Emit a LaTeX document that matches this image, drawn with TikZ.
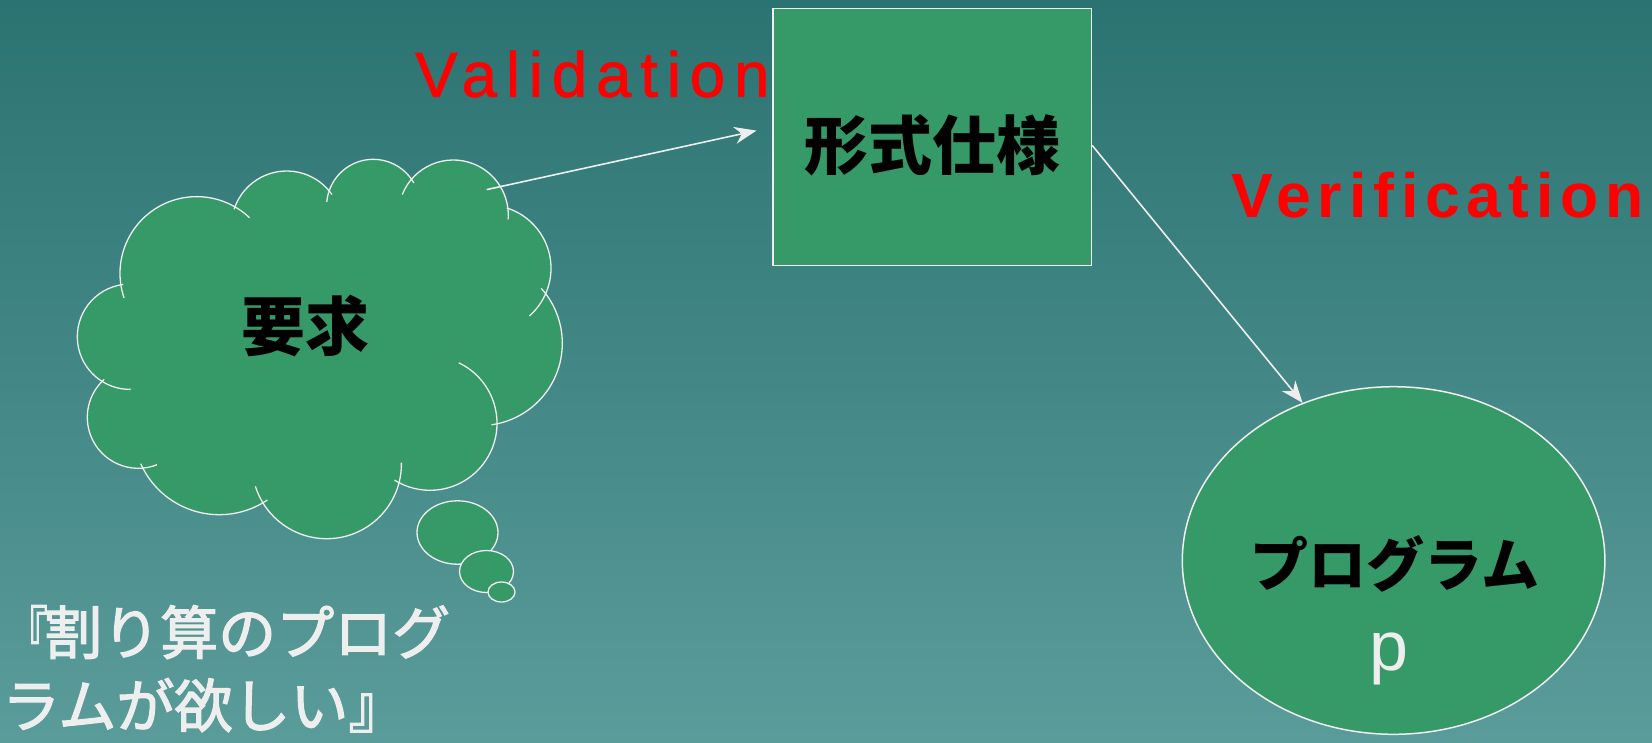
\documentclass[tikz,border=0pt]{standalone}
\usepackage{fontspec}
\usepackage{graphicx}
\usetikzlibrary{arrows.meta,shapes.geometric}
\setmainfont{Liberation Sans}
\newfontfamily\jpfont{Noto Sans CJK JP}
\newfontfamily\jpsemi{Noto Sans CJK JP}[FakeBold=2.2]
\newfontfamily\valfont{Liberation Sans}[LetterSpace=14,FakeBold=1.2]
\newfontfamily\verfont{Liberation Sans}[LetterSpace=11]
\definecolor{bgtop}{HTML}{2B7372}
\definecolor{bgbot}{HTML}{5A9C9A}
\definecolor{shapefill}{HTML}{369968}
\definecolor{linec}{HTML}{EEEEEE}
\definecolor{labred}{HTML}{FF0000}
\newcommand\cloudlobe[5]{\draw[cloudline] ([shift={(#4:#3)}]#1,#2) arc[start angle=#4,end angle=#5,radius=#3];}
\begin{document}
\begin{tikzpicture}[x=1pt,y=-1pt,
  cloudline/.style={draw=linec,line width=1.3pt},
  shapebox/.style={draw=linec,line width=1.5pt,fill=shapefill,inner sep=0pt},
  bubble/.style={draw=linec,line width=1.3pt,fill=shapefill},
  jpbig/.style={font=\jpfont\bfseries\fontsize{64}{70}\selectfont,text=black,inner sep=0pt},
  arr/.style={draw=linec,line width=1.6pt,-{Stealth[length=22pt,width=17pt,inset=7pt]}},
  redlab/.style={text=labred,inner sep=0pt}]
\useasboundingbox (0,0) rectangle (1652,742);
\shade[top color=bgtop,bottom color=bgbot] (0,0) rectangle (1652,742);
% cloud fill
\fill[shapefill] (196.7,273.3) -- (286.7,226.3) -- (373.3,206) -- (453.3,215) -- (487.7,268.3) -- (480,343.3) -- (430,423.3) -- (326.7,464) -- (219.3,428.7) -- (138.3,417.3) -- (130,336.7) -- cycle;
\fill[shapefill] (196.7,273.3) circle[radius=76.7] (286.7,226.3) circle[radius=55.3]
  (373.3,206) circle[radius=46.7] (453.3,215) circle[radius=55] (487.7,268.3) circle[radius=63.3]
  (480,343.3) circle[radius=82.3] (430,423.3) circle[radius=67] (326.7,464) circle[radius=74.7]
  (219.3,428.7) circle[radius=86] (138.3,417.3) circle[radius=51] (130,336.7) circle[radius=52.7];
\cloudlobe{196.7}{273.3}{76.7}{161.2}{313.6}
\cloudlobe{286.7}{226.3}{55.3}{198}{325}
\cloudlobe{373.3}{206}{46.7}{185}{330.4}
\cloudlobe{453.3}{215}{55}{201.8}{364.5}
\cloudlobe{487.7}{268.3}{63.3}{287.6}{408.8}
\cloudlobe{480}{343.3}{82.3}{318}{442}
\cloudlobe{430}{423.3}{67}{295.4}{482}
\cloudlobe{326.7}{464}{74.7}{-1}{162.6}
\cloudlobe{219.3}{428.7}{86}{56}{156}
\cloudlobe{138.3}{417.3}{51}{68.5}{228}
\cloudlobe{130}{336.7}{52.7}{262.6}{89.2}
\node[jpbig] (req) at (305.5,326.5) {要求};
% thought bubbles
\draw[bubble] (457.5,532.5) ellipse[x radius=40.5,y radius=31.7];
\draw[bubble] (486.5,571.5) ellipse[x radius=27,y radius=21];
\draw[bubble] (501.5,592) ellipse[x radius=13.5,y radius=10];
% specification box
\node[shapebox,minimum width=318.5pt,minimum height=257pt] (spec) at (932.2,137) {};
\node[jpbig] (spectext) at (932.5,145) {形式仕様};
% program ellipse
\node[shapebox,ellipse,minimum width=422.6pt,minimum height=347.6pt] (prog) at (1393.6,560.5) {};
\node[font=\jpfont\bfseries\fontsize{58}{64}\selectfont,text=black,inner sep=0pt] (progtext) at (1395,563.5) {プログラム};
\node[font=\fontsize{70}{80}\selectfont,text=linec,inner sep=0pt,anchor=base] (progp) at (1389,670) {p};
% labels
\node[redlab,font=\valfont\fontsize{63.5}{70}\selectfont,anchor=base west] (val) at (415,96.7) {Validation};
\node[redlab,font=\verfont\bfseries\fontsize{62.5}{70}\selectfont,anchor=base west] (ver) at (1231,217.3) {Verification};
% wish text
\node[font=\jpsemi\fontsize{58}{73}\selectfont,text=linec,inner sep=0pt,align=left,anchor=north west] (wish) at (2,605) {\makebox[42pt][l]{\hspace{5pt}\scalebox{0.7}[1]{『}}割り算のプログ\\ラムが欲しい』};
% connectors
\coordinate (cloudout) at (486.7,189.6);
\coordinate (vtip) at (756.5,130.6);
\draw[arr] (cloudout) -- (vtip);
\draw[arr] ([yshift=-8.4pt]spec.east) -- (prog.120);
\end{tikzpicture}
\end{document}
